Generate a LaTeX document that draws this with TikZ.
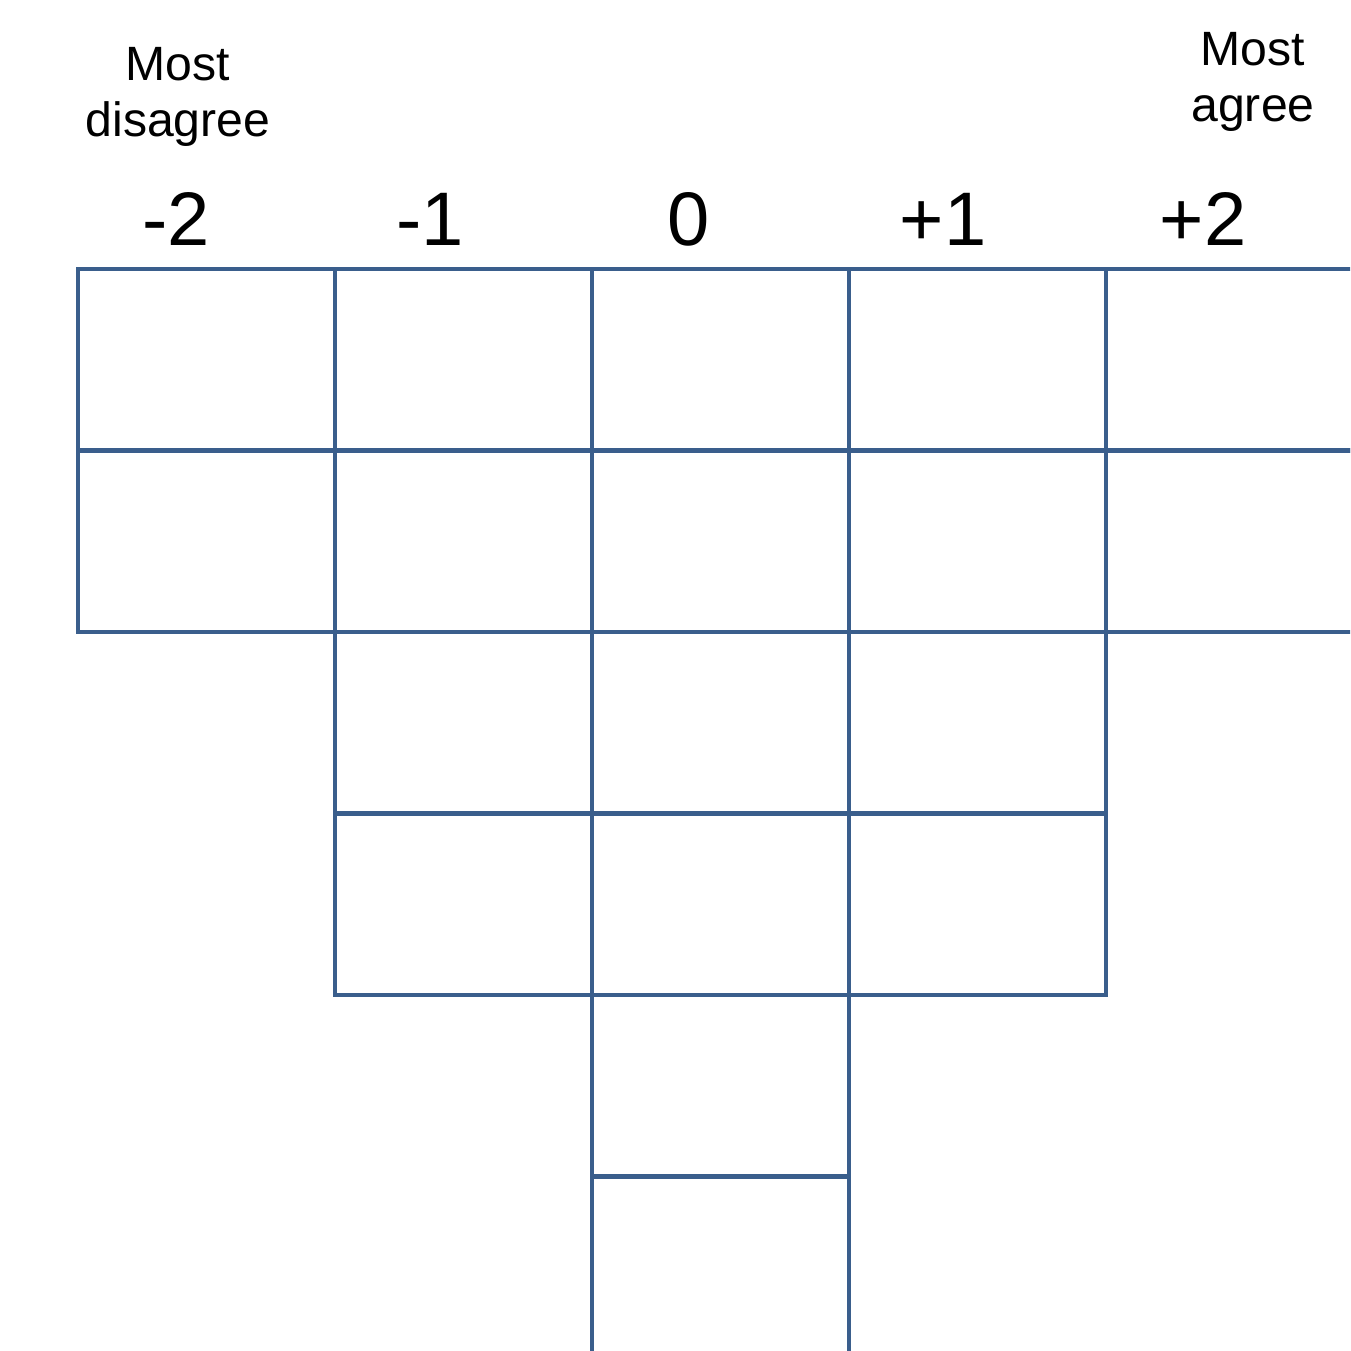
\documentclass[tikz,border=0pt]{standalone}
\usepackage{fontspec}
\setmainfont{Liberation Sans}
\usepackage{xcolor}
\usepackage{tikz}
\definecolor{gridblue}{HTML}{3A5E8C}
\tikzset{
  cell/.style={draw=gridblue, line width=1.2pt, minimum width=2.57cm,
               minimum height=1.815cm, inner sep=0pt, outer sep=0pt},
  score/.style={inner sep=0pt, font=\fontsize{21.6}{26}\selectfont},
  pole/.style={inner sep=0pt, align=center, font=\fontsize{13.7}{15.9}\selectfont}
}

\begin{document}
\begin{tikzpicture}
\useasboundingbox (0,0) rectangle (13.5,-13.51);
\clip (0,0) rectangle (13.5,-13.51);
% end labels
\node[pole] (mostdis) at (1.78,-0.97) {Most\\disagree};
\node[pole] (mostagr) at (12.53,-0.82) {Most\\agree};
% column scores
\foreach \c/\x/\s in {0/1.76/-2,1/4.30/-1,2/6.89/0,3/9.43/+1,4/12.03/+2}
  \node[score, anchor=base] (s\c) at (\x,-2.45) {\s};
% sorting grid: 2-4-6-4-2
\foreach \c/\n in {0/2,1/4,2/6,3/4,4/2}{
  \foreach \r in {1,...,\n}
    \node[cell] (c\c-\r) at (2.065+2.57*\c,-3.5975-1.815*\r+1.815) {};
}
\end{tikzpicture}
\end{document}
